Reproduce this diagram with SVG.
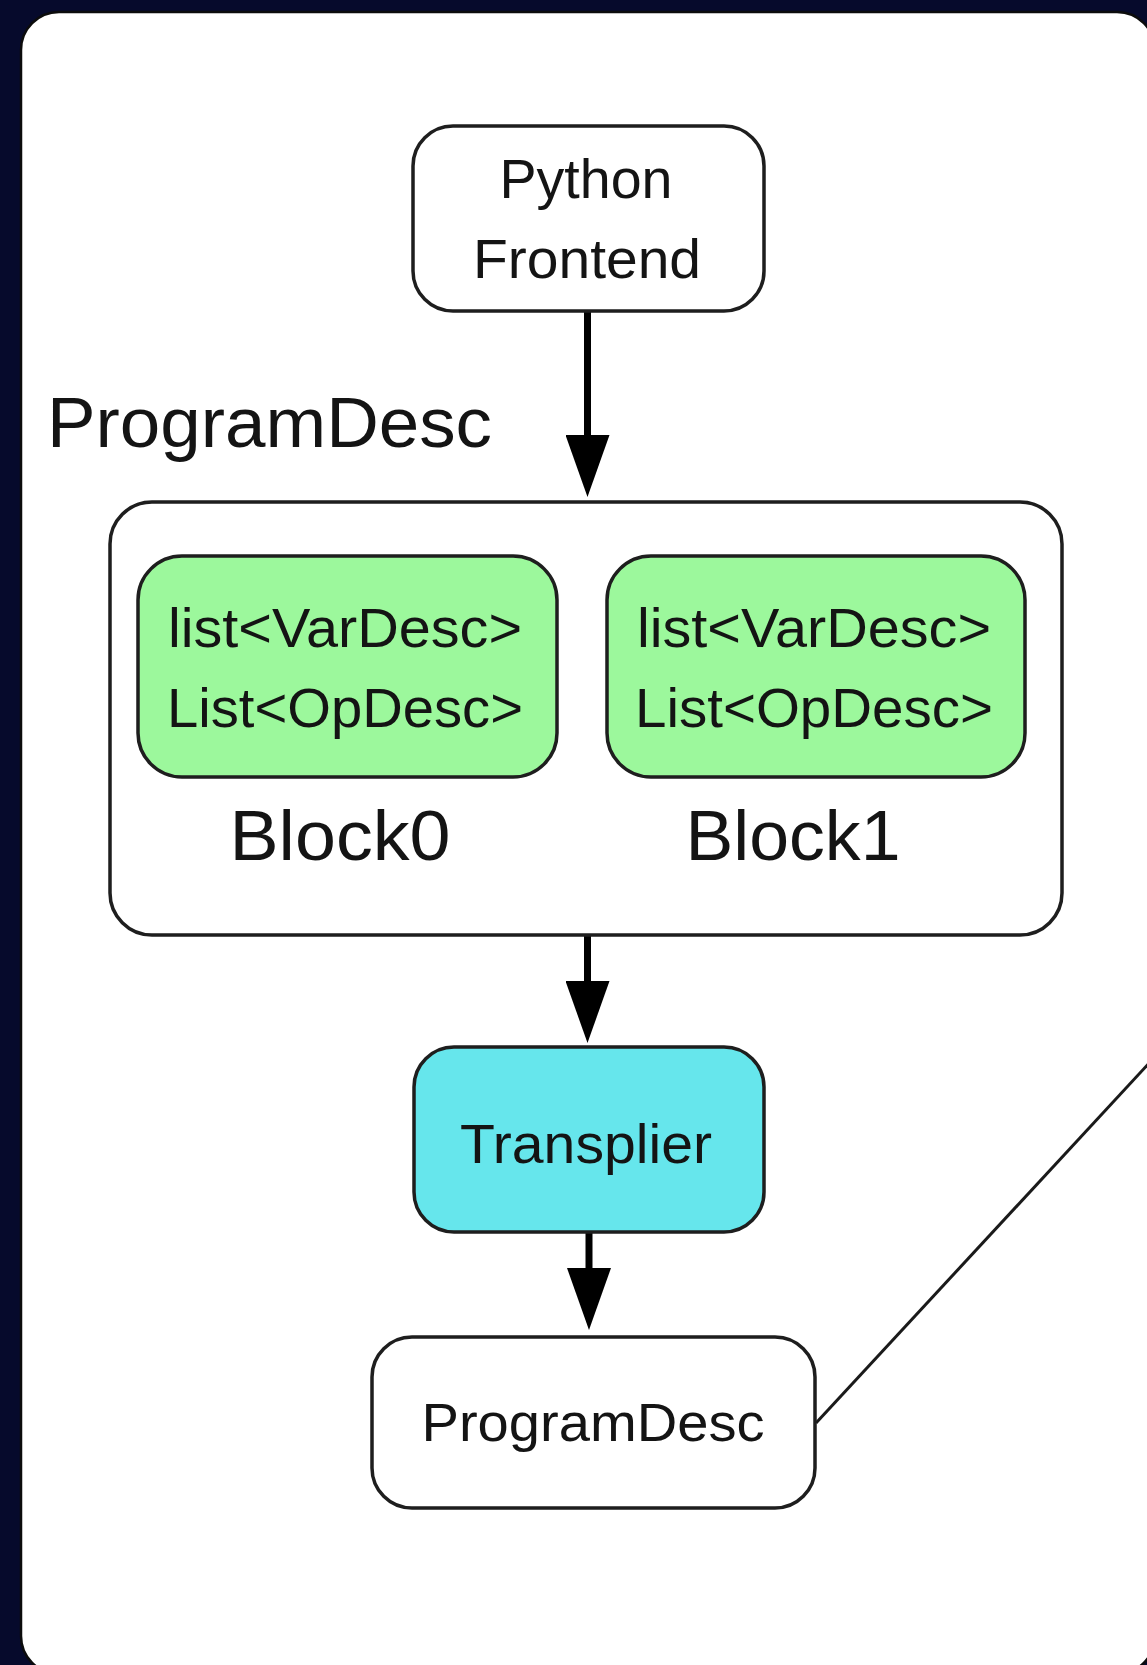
<svg xmlns="http://www.w3.org/2000/svg" width="1147" height="1665" viewBox="0 0 1147 1665">
  <defs>
    <marker id="head" markerUnits="userSpaceOnUse" markerWidth="62" markerHeight="44" viewBox="0 0 62 44" refX="20" refY="22" orient="auto">
      <path d="M0,0 L62,22 L0,44 Z" fill="#000"/>
    </marker>
    <style>
      .box { stroke: #1e1e1e; stroke-width: 3.5; }
      .plain { fill: #ffffff; }
      .block { fill: #9cf89c; }
      .tool { fill: #66e6ec; }
      .txt { font-family: "Liberation Sans", Arial, sans-serif; fill: #141414; text-anchor: middle; }
      .flow { stroke: #000; stroke-width: 7; fill: none; }
      .link { stroke: #1a1a1a; stroke-width: 3; fill: none; }
    </style>
  </defs>

  <!-- backdrop and page -->
  <rect x="0" y="0" width="1147" height="1665" fill="#060a2c"/>
  <rect x="21" y="12" width="1134" height="1662" rx="38" ry="38" fill="#ffffff" stroke="#0c0c0c" stroke-width="2.5"/>

  <!-- connectors -->
  <g id="connectors">
    <line class="flow" x1="587.5" y1="310" x2="587.5" y2="455" marker-end="url(#head)"/>
    <line class="flow" x1="587.5" y1="935" x2="587.5" y2="1001" marker-end="url(#head)"/>
    <line class="flow" x1="589" y1="1232" x2="589" y2="1288" marker-end="url(#head)"/>
    <line class="link" x1="816" y1="1423" x2="1152" y2="1060"/>
  </g>

  <g id="python-frontend">
    <rect class="box plain" x="413" y="126" width="351" height="185" rx="40" ry="40"/>
    <text class="txt" x="586" y="198" font-size="56" textLength="173" lengthAdjust="spacingAndGlyphs">Python</text>
    <text class="txt" x="587" y="278" font-size="56" textLength="228" lengthAdjust="spacingAndGlyphs">Frontend</text>
  </g>

  <g id="program-desc">
    <text font-family="Liberation Sans, Arial, sans-serif" fill="#141414" x="47" y="447" font-size="70" textLength="445" lengthAdjust="spacingAndGlyphs">ProgramDesc</text>
    <rect class="box plain" x="110" y="502" width="952" height="433" rx="42" ry="42"/>
  </g>

  <g id="block0">
    <rect class="box block" x="138" y="556" width="419" height="221" rx="44" ry="44"/>
    <text class="txt" x="345" y="647" font-size="55" textLength="354" lengthAdjust="spacingAndGlyphs">list&lt;VarDesc&gt;</text>
    <text class="txt" x="345" y="727" font-size="55" textLength="356" lengthAdjust="spacingAndGlyphs">List&lt;OpDesc&gt;</text>
    <text class="txt" x="340" y="860" font-size="71" textLength="221" lengthAdjust="spacingAndGlyphs">Block0</text>
  </g>

  <g id="block1">
    <rect class="box block" x="607" y="556" width="418" height="221" rx="44" ry="44"/>
    <text class="txt" x="814" y="647" font-size="55" textLength="354" lengthAdjust="spacingAndGlyphs">list&lt;VarDesc&gt;</text>
    <text class="txt" x="814" y="727" font-size="55" textLength="358" lengthAdjust="spacingAndGlyphs">List&lt;OpDesc&gt;</text>
    <text class="txt" x="793" y="860" font-size="71" textLength="215" lengthAdjust="spacingAndGlyphs">Block1</text>
  </g>

  <g id="transplier">
    <rect class="box tool" x="414" y="1047" width="350" height="185" rx="40" ry="40"/>
    <text class="txt" x="586" y="1163" font-size="55" textLength="252" lengthAdjust="spacingAndGlyphs">Transplier</text>
  </g>

  <g id="program-desc-out">
    <rect class="box plain" x="372" y="1337" width="443" height="171" rx="40" ry="40"/>
    <text class="txt" x="593" y="1441" font-size="54" textLength="343" lengthAdjust="spacingAndGlyphs">ProgramDesc</text>
  </g>
</svg>
